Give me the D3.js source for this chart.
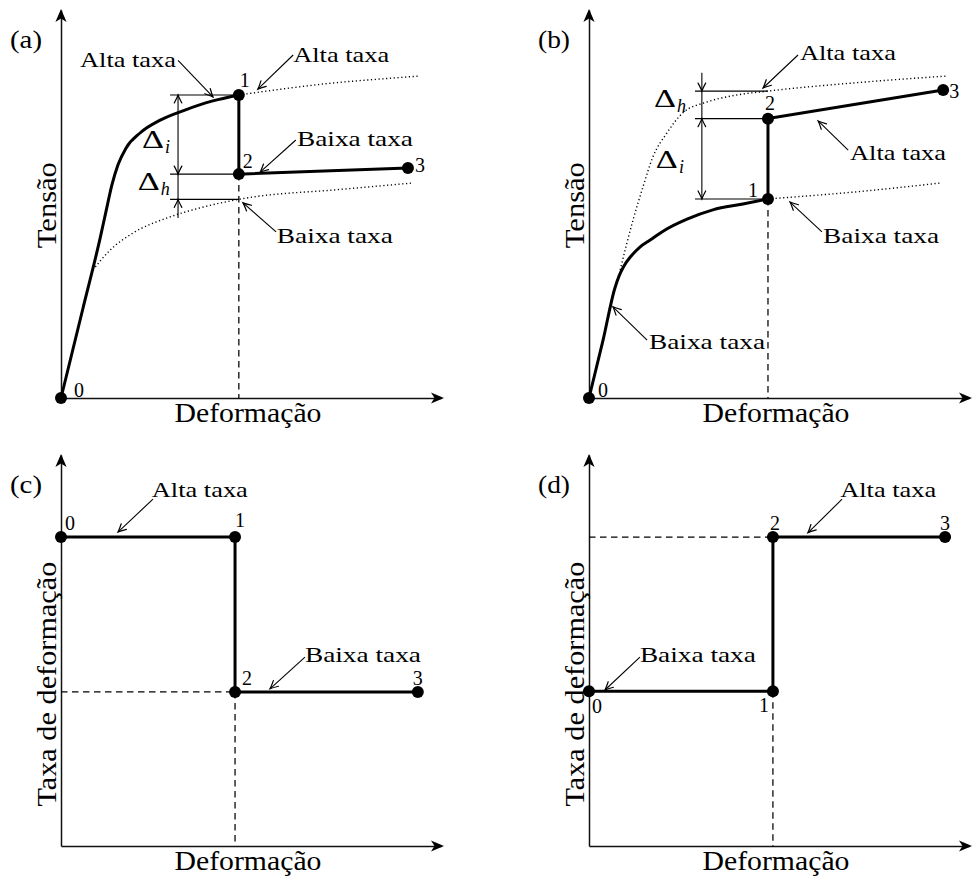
<!DOCTYPE html>
<html>
<head>
<meta charset="utf-8">
<script src="https://cdn.jsdelivr.net/npm/d3@7"></script>
<style>
  body { margin: 0; background: #fff; }
  svg { display: block; }
  text { font-family: "Liberation Serif", "Times New Roman", serif; fill: #000; }
</style>
</head>
<body>
<svg id="chart" width="974" height="878"></svg>
<script>
// ---------------- data ----------------
const panelTags = ["(a)", "(b)", "(c)", "(d)"];
const strainTitle = "Deformação";
const stressTitle = "Tensão";
const rateTitle = "Taxa de deformação";
const pointNames = ["0", "1", "2", "3"];
const highRateText = "Alta taxa";
const lowRateText = "Baixa taxa";

// (a) strain-rate drop: loading at high rate, then switch to low rate
const aLoading = [[0, 0], [0.58, 2.32], [1.03, 4.12], [1.18, 4.79], [1.34, 5.49], [1.50, 6.01],
                  [1.71, 6.44], [2.08, 6.83], [2.61, 7.16], [3.26, 7.42], [3.97, 7.65], [4.68, 7.81]];
const aHighRef = [[4.68, 7.81], [6.03, 7.99], [7.16, 8.12], [8.39, 8.22], [9.45, 8.30]];
const aLowRef = [[0.84, 3.30], [1.29, 3.81], [1.89, 4.25], [2.79, 4.64], [3.66, 4.90],
                 [4.68, 5.12], [5.05, 5.18], [7.16, 5.36], [9.24, 5.54]];
const aPoints = [[0, 0], [4.68, 7.81], [4.68, 5.77], [9.13, 5.93]];

// (b) strain-rate rise: loading at low rate, then switch to high rate
const bLoading = [[0, 0], [0.37, 1.49], [0.68, 2.83], [0.79, 3.14], [0.92, 3.40], [1.11, 3.66],
                  [1.34, 3.89], [1.61, 4.07], [1.95, 4.30], [2.58, 4.61], [3.26, 4.85],
                  [4.05, 5.00], [4.71, 5.13]];
const bHighRef = [[0.82, 3.30], [1.16, 4.59], [1.42, 5.44], [1.68, 6.21], [2.05, 6.83], [2.47, 7.35],
                  [3.11, 7.63], [3.89, 7.81], [4.71, 7.91], [7.21, 8.14], [9.45, 8.30]];
const bLowRef = [[4.71, 5.13], [7.21, 5.33], [9.24, 5.54]];
const bPoints = [[0, 0], [4.71, 5.13], [4.71, 7.20], [9.32, 7.94]];

// (c), (d) strain-rate history
const cPoints = [[0, 7.90], [4.58, 7.90], [4.58, 3.94], [9.39, 3.94]];
const dPoints = [[0, 3.96], [4.84, 3.96], [4.84, 7.90], [9.37, 7.90]];

// ---------------- layout ----------------
const svg = d3.select("#chart");

const panels = [
  { tag: panelTags[0], ox: 61,  oy: 398, top: 10,  yTitle: stressTitle, yTitleAt: 4.97, yTitleLen: 86,
    points: aPoints, loading: aLoading, refs: [aHighRef, aLowRef],
    labelOffsets: [[13, -1, "start"], [1, -8, "start"], [4, -6, "start"], [7, 4, "start"]],
    callouts: [
      { text: highRateText, at: [0.50, 8.53], from: [3.08, 8.70], to: [4.00, 7.76] },
      { text: highRateText, at: [6.11, 8.66], from: [6.11, 8.84], to: [5.18, 7.96] },
      { text: lowRateText,  at: [6.21, 6.49], from: [6.18, 6.65], to: [5.24, 5.82] },
      { text: lowRateText,  at: [5.68, 3.99], from: [5.66, 4.28], to: [4.79, 5.03] }
    ],
    deltas: { x0: 2.87, xv: 3.08, levels: [7.81, 5.77, 5.12], vTop: 7.81, vBot: 4.64,
              heads: [[7.81, "up"], [5.77, "down"], [5.12, "up"]],
              marks: [{ sub: "i", at: [2.13, 6.44] }, { sub: "h", at: [2.02, 5.36] }] },
    dashes: [{ from: 2, vertical: true }]
  },
  { tag: panelTags[1], ox: 589, oy: 398, top: 10, yTitle: stressTitle, yTitleAt: 4.97, yTitleLen: 86,
    points: bPoints, loading: bLoading, refs: [bHighRef, bLowRef],
    labelOffsets: [[9, -1, "start"], [-10, -2, "end"], [2, -9, "middle"], [6, 8, "start"]],
    callouts: [
      { text: highRateText, at: [5.55, 8.71], from: [5.50, 8.84], to: [4.58, 7.99] },
      { text: highRateText, at: [6.87, 6.13], from: [6.82, 6.39], to: [6.03, 7.14] },
      { text: lowRateText,  at: [6.16, 3.99], from: [6.13, 4.28], to: [5.29, 5.05] },
      { text: lowRateText,  at: [1.58, 1.26], from: [1.53, 1.49], to: [0.63, 2.35] }
    ],
    deltas: { x0: 2.79, xv: 2.97, levels: [7.91, 7.20, 5.13], vTop: 8.38, vBot: 5.13,
              heads: [[7.91, "down"], [7.20, "up"], [5.13, "down"]],
              marks: [{ sub: "h", at: [1.71, 7.50] }, { sub: "i", at: [1.76, 5.93] }] },
    dashes: [{ from: 1, vertical: true }]
  },
  { tag: panelTags[2], ox: 61, oy: 846, top: 455, yTitle: rateTitle, yTitleAt: 4.14, yTitleLen: 245,
    points: cPoints,
    labelOffsets: [[4, -7, "start"], [0, -10, "start"], [7, -7, "start"], [0, -7, "middle"]],
    callouts: [
      { text: highRateText, at: [2.39, 8.93], from: [2.42, 8.87], to: [1.50, 8.03] },
      { text: lowRateText,  at: [6.42, 4.71], from: [6.42, 4.83], to: [5.50, 4.02] }
    ],
    dashes: [{ from: 2, vertical: true }, { from: 2, vertical: false }]
  },
  { tag: panelTags[3], ox: 589, oy: 846, top: 455, yTitle: rateTitle, yTitleAt: 4.14, yTitleLen: 245,
    points: dPoints,
    labelOffsets: [[3, 22, "start"], [-4, 21, "end"], [2, -7, "middle"], [0, -7, "middle"]],
    callouts: [
      { text: highRateText, at: [6.61, 8.93], from: [6.66, 8.87], to: [5.76, 8.01] },
      { text: lowRateText,  at: [1.34, 4.71], from: [1.34, 4.83], to: [0.42, 3.99] }
    ],
    dashes: [{ from: 1, vertical: true }, { from: 2, vertical: false }]
  }
];

// open "to"-style arrow tip, pointing along +x, tip at origin
const thinHead = "M-8,-3.8 Q-2.6,-0.9 0,0 Q-2.6,0.9 -8,3.8";
// filled axis tip
const axisHead = "M1,0 L-12,-5.6 L-8.5,0 L-12,5.6 Z";

function drawHead(g, x, y, angleDeg) {
  g.append("path")
    .attr("d", thinHead)
    .attr("transform", `translate(${x},${y}) rotate(${angleDeg})`)
    .attr("fill", "none").attr("stroke", "#000").attr("stroke-width", 1.2)
    .attr("stroke-linecap", "round");
}

panels.forEach(p => {
  const g = svg.append("g");
  const x = d3.scaleLinear().domain([0, 10]).range([p.ox, p.ox + 380]);
  const y = d3.scaleLinear().domain([0, 10]).range([p.oy, p.top]);

  // axes
  const xAxis = g.append("g").attr("transform", `translate(0,${p.oy})`)
    .call(d3.axisBottom(x).tickValues([]).tickSizeOuter(0));
  const yAxis = g.append("g").attr("transform", `translate(${p.ox},0)`)
    .call(d3.axisLeft(y).tickValues([]).tickSizeOuter(0));
  [xAxis, yAxis].forEach(a => a.select(".domain").attr("stroke", "#111").attr("stroke-width", 1.5));
  g.append("path").attr("d", axisHead)
    .attr("transform", `translate(${x(10) + 2},${y(0)})`).attr("fill", "#000");
  g.append("path").attr("d", axisHead)
    .attr("transform", `translate(${x(0)},${y(10)}) rotate(-90)`).attr("fill", "#000");

  // axis titles
  g.append("text")
    .attr("x", p.ox + 187).attr("y", p.oy + 24)
    .attr("text-anchor", "middle").attr("font-size", 27)
    .attr("textLength", 147).attr("lengthAdjust", "spacingAndGlyphs")
    .text(strainTitle);
  g.append("text")
    .attr("transform", `translate(${p.ox - 5},${y(p.yTitleAt)}) rotate(-90)`)
    .attr("text-anchor", "middle").attr("font-size", 27)
    .attr("textLength", p.yTitleLen).attr("lengthAdjust", "spacingAndGlyphs")
    .text(p.yTitle);

  // panel tag
  g.append("text")
    .attr("x", p.ox - 51).attr("y", p.top + 38)
    .attr("font-size", 25)
    .attr("textLength", 32).attr("lengthAdjust", "spacingAndGlyphs")
    .text(p.tag);

  const line = d3.line().x(d => x(d[0])).y(d => y(d[1]));
  const smooth = d3.line().x(d => x(d[0])).y(d => y(d[1])).curve(d3.curveMonotoneX);

  // dashed guides
  (p.dashes || []).forEach(dsh => {
    const pt = p.points[dsh.from];
    const seg = dsh.vertical ? [[pt[0], pt[1]], [pt[0], 0]] : [[0, pt[1]], [pt[0], pt[1]]];
    g.append("path").attr("d", line(seg))
      .attr("fill", "none").attr("stroke", "#000").attr("stroke-width", 1.25)
      .attr("stroke-dasharray", "6.5 4.5");
  });

  // dotted reference curves (single-rate responses)
  (p.refs || []).forEach(r => {
    g.append("path").attr("d", smooth(r))
      .attr("fill", "none").attr("stroke", "#000").attr("stroke-width", 1.4)
      .attr("stroke-dasharray", "1.2 2.6");
  });

  // delta annotations
  if (p.deltas) {
    const dl = p.deltas;
    const xEnd = p.points[1][0];
    dl.levels.forEach(lv => {
      g.append("path").attr("d", line([[dl.x0, lv], [xEnd, lv]]))
        .attr("fill", "none").attr("stroke", "#000").attr("stroke-width", 1.1);
    });
    g.append("path").attr("d", line([[dl.xv, dl.vTop], [dl.xv, dl.vBot]]))
      .attr("fill", "none").attr("stroke", "#000").attr("stroke-width", 1.1);
    dl.heads.forEach(([lv, dir]) => drawHead(g, x(dl.xv), y(lv), dir === "up" ? -90 : 90));
    dl.marks.forEach(m => {
      g.append("text").attr("x", x(m.at[0])).attr("y", y(m.at[1]))
        .attr("font-size", 25).attr("textLength", 22).attr("lengthAdjust", "spacingAndGlyphs")
        .text("Δ");
      g.append("text").attr("x", x(m.at[0]) + 23).attr("y", y(m.at[1]) + 5)
        .attr("font-size", 18).attr("font-style", "italic")
        .text(m.sub);
    });
  }

  // main path: loading curve then step segments
  if (p.loading) {
    g.append("path").attr("d", smooth(p.loading))
      .attr("fill", "none").attr("stroke", "#000").attr("stroke-width", 3)
      .attr("stroke-linejoin", "round");
    g.append("path").attr("d", line(p.points.slice(1)))
      .attr("fill", "none").attr("stroke", "#000").attr("stroke-width", 3)
      .attr("stroke-linejoin", "miter");
  } else {
    g.append("path").attr("d", line(p.points))
      .attr("fill", "none").attr("stroke", "#000").attr("stroke-width", 3)
      .attr("stroke-linejoin", "miter");
  }

  // state points
  g.selectAll("circle.state").data(p.points).join("circle")
    .attr("class", "state")
    .attr("cx", d => x(d[0])).attr("cy", d => y(d[1])).attr("r", 6).attr("fill", "#000");
  g.selectAll("text.state").data(p.points).join("text")
    .attr("class", "state")
    .attr("x", (d, i) => x(d[0]) + p.labelOffsets[i][0])
    .attr("y", (d, i) => y(d[1]) + p.labelOffsets[i][1])
    .attr("text-anchor", (d, i) => p.labelOffsets[i][2])
    .attr("font-size", 20)
    .text((d, i) => pointNames[i]);

  // callouts
  p.callouts.forEach(c => {
    g.append("text").attr("x", x(c.at[0])).attr("y", y(c.at[1]))
      .attr("font-size", 22)
      .attr("textLength", c.text === highRateText ? 96 : 116)
      .attr("lengthAdjust", "spacingAndGlyphs")
      .text(c.text);
    const x1 = x(c.from[0]), y1 = y(c.from[1]), x2 = x(c.to[0]), y2 = y(c.to[1]);
    g.append("line").attr("x1", x1).attr("y1", y1).attr("x2", x2).attr("y2", y2)
      .attr("stroke", "#000").attr("stroke-width", 1.1);
    drawHead(g, x2, y2, Math.atan2(y2 - y1, x2 - x1) * 180 / Math.PI);
  });
});
</script>
</body>
</html>
